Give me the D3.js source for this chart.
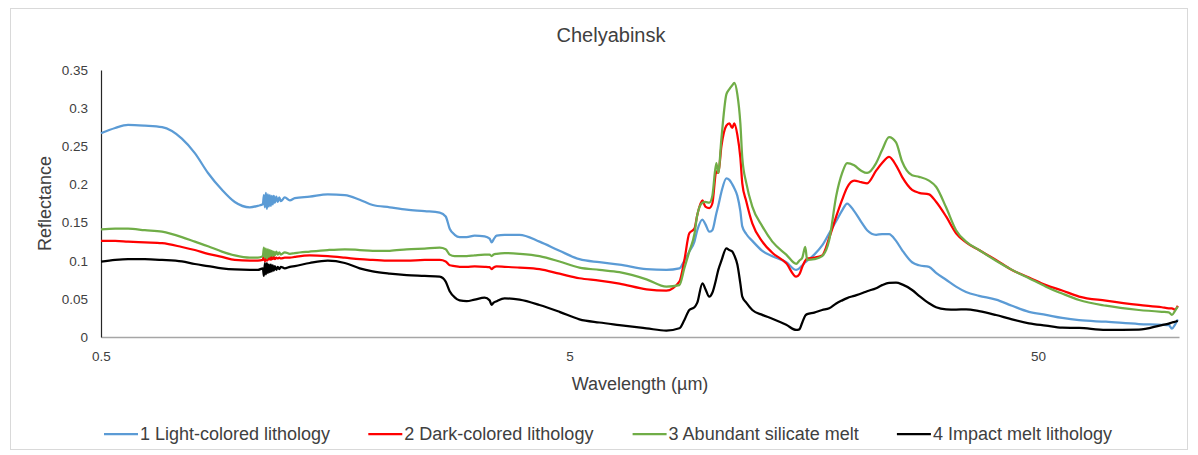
<!DOCTYPE html>
<html lang="en">
<head>
<meta charset="UTF-8">
<title>Chelyabinsk</title>
<style>
  body { margin: 0; background: #fff; }
  text { font-family: "Liberation Sans", Arial, sans-serif; fill: #404040; }
</style>
</head>
<body>
<script src="https://d3js.org/d3.v7.min.js"></script>
<script>

// wavelength in micrometres, shared by the four spectra
var wavelength = [0.5, 0.536, 0.571, 0.620, 0.675, 0.744, 0.793, 0.846, 0.906, 0.965,
  1.039, 1.081,
  1.108, 1.1135, 1.119, 1.1245, 1.130, 1.1355, 1.141, 1.1465, 1.152, 1.1575,
  1.163, 1.169, 1.175, 1.1835, 1.192, 1.201, 1.210,
  1.234, 1.265, 1.296, 1.395, 1.524, 1.657, 1.783, 1.901, 2.067,
  2.246, 2.454, 2.642, 2.721, 2.775, 2.844, 2.914, 3.016, 3.137, 3.295,
  3.377, 3.410, 3.444, 3.495, 3.635, 3.912, 4.315, 4.761, 5.25, 5.79,
  6.39, 7.30, 8.05, 8.58, 8.79, 9.01, 9.24, 9.37, 9.61, 9.75,
  9.94, 10.09, 10.29, 10.39, 10.55, 10.81, 10.97, 11.13, 11.24, 11.41,
  11.58, 11.69, 11.92, 12.28, 12.90, 13.55, 14.51, 15.24, 15.47, 15.70,
  15.93, 16.08, 16.65, 17.31, 17.92, 18.55, 19.10, 19.57, 20.26, 20.97,
  21.59, 22.57, 23.24, 24.05, 24.89, 25.64, 26.93, 27.87, 29.27, 30.30,
  31.83, 33.43, 35.11, 37.42, 40.68, 44.01, 47.84, 52.0, 56.3, 61.2,
  69.8, 82.1, 91.9, 95.1, 96.6, 98.0, 99.4];

var light = [0.267, 0.274, 0.278, 0.277, 0.275, 0.260, 0.241, 0.215, 0.193, 0.177,
  0.170, 0.172,
  0.174, 0.186, 0.170, 0.189, 0.168, 0.187, 0.171, 0.186, 0.172, 0.185,
  0.174, 0.185, 0.176, 0.184, 0.177, 0.183, 0.178,
  0.183, 0.179, 0.182, 0.184, 0.187, 0.186, 0.180, 0.173, 0.170,
  0.167, 0.165, 0.163, 0.158, 0.142, 0.134, 0.131, 0.131, 0.133, 0.132,
  0.129, 0.124, 0.128, 0.133, 0.134, 0.134, 0.125, 0.113, 0.102, 0.098,
  0.095, 0.089, 0.088, 0.090, 0.100, 0.112, 0.125, 0.140, 0.154, 0.148,
  0.138, 0.140, 0.162, 0.172, 0.190, 0.208, 0.206, 0.200, 0.195, 0.185,
  0.165, 0.145, 0.135, 0.126, 0.113, 0.106, 0.098, 0.088, 0.090, 0.094,
  0.098, 0.100, 0.108, 0.120, 0.136, 0.152, 0.166, 0.175, 0.165, 0.151,
  0.140, 0.134, 0.135, 0.135, 0.126, 0.114, 0.098, 0.094, 0.092, 0.084,
  0.075, 0.066, 0.059, 0.054, 0.049, 0.041, 0.033, 0.029, 0.025, 0.022,
  0.020, 0.017, 0.016, 0.0155, 0.011, 0.016, 0.023];

var dark = [0.126, 0.126, 0.125, 0.124, 0.123, 0.118, 0.114, 0.109, 0.105, 0.101,
  0.100, 0.100,
  0.101, 0.110, 0.099, 0.108, 0.100, 0.107, 0.101, 0.106, 0.101, 0.105,
  0.102, 0.105, 0.102, 0.104, 0.103, 0.104, 0.103,
  0.104, 0.104, 0.105, 0.107, 0.106, 0.104, 0.102, 0.101, 0.100,
  0.100, 0.101, 0.101, 0.099, 0.094, 0.093, 0.092, 0.092, 0.0925, 0.092,
  0.0915, 0.089, 0.091, 0.0925, 0.092, 0.091, 0.089, 0.083, 0.077, 0.074,
  0.070, 0.0625, 0.0607, 0.0725, 0.100, 0.136, 0.142, 0.160, 0.179, 0.171,
  0.169, 0.175, 0.217, 0.215, 0.250, 0.277, 0.280, 0.274, 0.280, 0.265,
  0.235, 0.2015, 0.178, 0.149, 0.125, 0.1105, 0.0966, 0.079, 0.082, 0.092,
  0.100, 0.103, 0.104, 0.107, 0.130, 0.158, 0.180, 0.196, 0.205, 0.203,
  0.2015, 0.218, 0.228, 0.236, 0.225, 0.210, 0.193, 0.189, 0.187, 0.1773,
  0.158, 0.136, 0.124, 0.114, 0.101, 0.0878, 0.078, 0.068, 0.061, 0.053,
  0.0476, 0.042, 0.039, 0.0376, 0.0376, 0.036, 0.041];

var silicate = [0.141, 0.142, 0.142, 0.140, 0.138, 0.131, 0.125, 0.119, 0.112, 0.107,
  0.104, 0.104,
  0.106, 0.117, 0.104, 0.116, 0.103, 0.115, 0.105, 0.114, 0.106, 0.113,
  0.106, 0.112, 0.107, 0.112, 0.108, 0.111, 0.108,
  0.111, 0.109, 0.110, 0.112, 0.114, 0.115, 0.114, 0.113, 0.113,
  0.115, 0.116, 0.117, 0.115, 0.108, 0.106, 0.106, 0.106, 0.107, 0.108,
  0.108, 0.106, 0.108, 0.109, 0.110, 0.109, 0.106, 0.099, 0.091, 0.088,
  0.085, 0.0756, 0.066, 0.068, 0.090, 0.112, 0.135, 0.160, 0.176, 0.177,
  0.176, 0.185, 0.228, 0.215, 0.260, 0.318, 0.325, 0.330, 0.333, 0.318,
  0.280, 0.235, 0.202, 0.171, 0.145, 0.125, 0.108, 0.096, 0.100, 0.104,
  0.118, 0.101, 0.102, 0.106, 0.127, 0.185, 0.215, 0.228, 0.225, 0.218,
  0.215, 0.228, 0.245, 0.262, 0.255, 0.230, 0.212, 0.210, 0.205, 0.197,
  0.170, 0.140, 0.125, 0.114, 0.100, 0.088, 0.077, 0.066, 0.057, 0.0485,
  0.041, 0.0354, 0.033, 0.0324, 0.029, 0.034, 0.040];

var impact = [0.0987, 0.101, 0.102, 0.102, 0.101, 0.099, 0.0957, 0.093, 0.090, 0.0885,
  0.088, 0.088,
  0.090, 0.080, 0.097, 0.082, 0.097, 0.084, 0.095, 0.085, 0.095, 0.086,
  0.094, 0.087, 0.093, 0.088, 0.092, 0.089, 0.092,
  0.090, 0.092, 0.093, 0.097, 0.100, 0.097, 0.090, 0.086, 0.083,
  0.081, 0.080, 0.079, 0.0725, 0.060, 0.052, 0.048, 0.047, 0.049, 0.0515,
  0.048, 0.042, 0.045, 0.047, 0.0507, 0.049, 0.042, 0.033, 0.0232, 0.019,
  0.0157, 0.0114, 0.0083, 0.0114, 0.022, 0.0354, 0.039, 0.045, 0.0704, 0.063,
  0.0528, 0.058, 0.077, 0.088, 0.100, 0.1163, 0.114, 0.112, 0.107, 0.095,
  0.070, 0.0528, 0.045, 0.0354, 0.029, 0.024, 0.016, 0.0092, 0.010, 0.019,
  0.028, 0.030, 0.032, 0.0354, 0.0376, 0.044, 0.048, 0.051, 0.054, 0.057,
  0.060, 0.064, 0.068, 0.071, 0.0712, 0.069, 0.0616, 0.054, 0.0442, 0.039,
  0.0363, 0.036, 0.0363, 0.034, 0.0288, 0.023, 0.018, 0.015, 0.0122, 0.0118,
  0.0092, 0.0097, 0.0157, 0.0175, 0.019, 0.020, 0.0214];

var seriesNames = ["1 Light-colored lithology", "2 Dark-colored lithology",
  "3 Abundant silicate melt", "4 Impact melt lithology"];
var seriesColors = ["#5b9bd5", "#ff0000", "#70ad47", "#000000"];
var xTicks = [0.5, 5, 50];
var yTicks = [0, 0.05, 0.1, 0.15, 0.2, 0.25, 0.3, 0.35];

var w = 1198, h = 455;
var plot = {left: 101, right: 1179, top: 70, bottom: 337};

var svg = d3.select("body").append("svg")
    .attr("width", w)
    .attr("height", h);

svg.append("rect")
    .attr("x", 10.5)
    .attr("y", 8.5)
    .attr("width", 1177)
    .attr("height", 441)
    .attr("fill", "#fff")
    .attr("stroke", "#d9d9d9");

var x = d3.scaleLog().domain([0.5, 100]).range([plot.left, plot.right]);
var y = d3.scaleLinear().domain([0, 0.35]).range([plot.bottom, plot.top]);

// axes
var xAxis = svg.append("g")
    .attr("transform", "translate(0," + plot.bottom + ")")
    .call(d3.axisBottom(x).tickValues(xTicks).tickFormat(function(d) { return d; })
      .tickSize(0).tickSizeOuter(0).tickPadding(14));
xAxis.select(".domain").attr("stroke", "#a6a6a6").attr("stroke-width", 1.3);
xAxis.selectAll("text").attr("font-size", 13.5).attr("fill", "#404040");

var yAxis = svg.append("g")
    .attr("transform", "translate(" + plot.left + ",0)")
    .call(d3.axisLeft(y).tickValues(yTicks).tickFormat(function(d) { return +d.toFixed(2) + ""; })
      .tickSize(0).tickSizeOuter(0).tickPadding(13));
yAxis.select(".domain").attr("stroke", "#262626").attr("stroke-width", 1.2);
yAxis.selectAll("text").attr("font-size", 13.5).attr("fill", "#404040");

// spectra
var spectra = [light, dark, silicate, impact];
var line = d3.line()
    .curve(d3.curveMonotoneX)
    .x(function(d) { return x(d[0]); })
    .y(function(d) { return y(d[1]); });

svg.append("g").selectAll("path")
    .data(spectra)
    .enter()
    .append("path")
    .attr("d", function(s) { return line(d3.zip(wavelength, s)); })
    .attr("fill", "none")
    .attr("stroke", function(s, i) { return seriesColors[i]; })
    .attr("stroke-width", 2.25)
    .attr("stroke-linejoin", "round");

// titles
svg.append("text")
    .attr("x", 611)
    .attr("y", 42)
    .attr("text-anchor", "middle")
    .attr("font-size", 20)
    .attr("fill", "#1a1a1a")
    .text("Chelyabinsk");

svg.append("text")
    .attr("x", (plot.left + plot.right) / 2)
    .attr("y", 390)
    .attr("text-anchor", "middle")
    .attr("font-size", 18)
    .attr("fill", "#1a1a1a")
    .text("Wavelength (\u00b5m)");

svg.append("text")
    .attr("transform", "translate(51," + (plot.top + plot.bottom) / 2 + ") rotate(-90)")
    .attr("text-anchor", "middle")
    .attr("font-size", 18)
    .attr("fill", "#1a1a1a")
    .text("Reflectance");

// legend
var legend = svg.append("g").selectAll("g")
    .data(seriesNames)
    .enter()
    .append("g")
    .attr("transform", function(d, i) { return "translate(" + (104 + i * 264.3) + ",434)"; });

legend.append("line")
    .attr("x1", 0).attr("x2", 34)
    .attr("stroke", function(d, i) { return seriesColors[i]; })
    .attr("stroke-width", 2.25);

legend.append("text")
    .attr("x", 36)
    .attr("y", 6)
    .attr("font-size", 18)
    .attr("fill", "#1a1a1a")
    .text(function(d) { return d; });

</script>
</body>
</html>
